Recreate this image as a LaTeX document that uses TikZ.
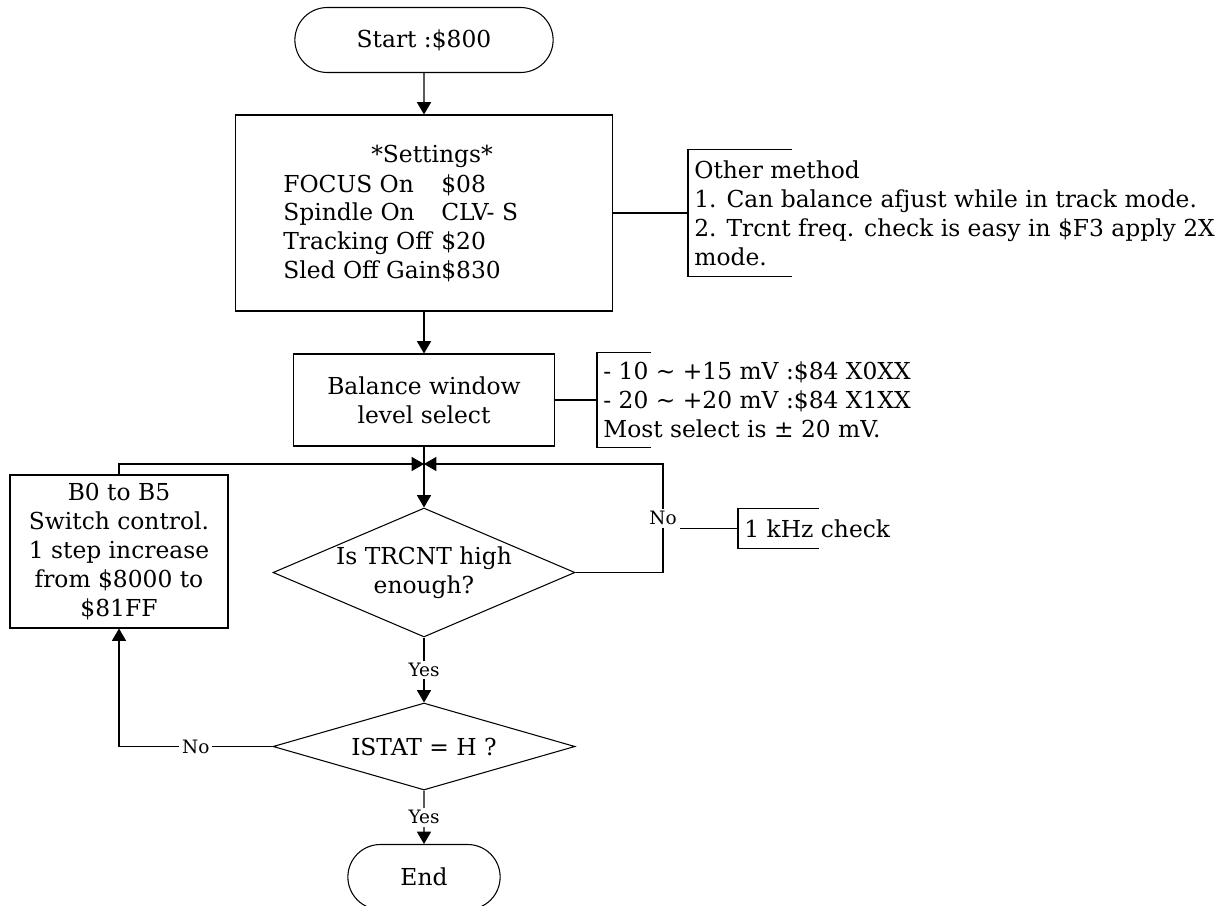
\documentclass[tikz,border=0pt]{standalone}
\usepackage{fontspec}
\setmainfont{DejaVu Serif}
\usetikzlibrary{shapes.geometric, shapes.misc, arrows.meta}

\begin{document}
\begin{tikzpicture}
  [x=0.02cm, y=-0.02cm,
  font=\fontsize{13.3}{16.5}\selectfont,
  terminal/.style={rounded rectangle, draw=black, line width=0.6pt,
  minimum width=#1, minimum height=1.3cm},
  block/.style={rectangle, draw=black, line width=0.6pt, align=center},
  decision/.style={diamond, draw=black, line width=0.6pt,
  align=center, inner sep=0pt, minimum width=6.04cm},
  note/.style={anchor=west, align=left, inner xsep=0.12cm, inner ysep=0pt},
  lbl/.style={font=\fontsize{10.5}{12}\selectfont, fill=white, inner sep=1.5pt},
  line/.style={draw, line width=0.6pt, -{Triangle[length=7pt,width=8pt]}},
  link/.style={draw, line width=0.6pt}]

  \useasboundingbox (0,0) rectangle (1224,906);

  \node [terminal=5.4cm] (start) at (424,40) {Start :\$800};
  \node [block, minimum width=7.56cm, minimum height=3.92cm] (settings) at (424,213) {};
  \node (settitle) at (432,156) {*Settings*};
  \node [anchor=base west, inner sep=0pt] (setlist) at (283,192)
    {\begin{tabular}[t]{@{}l@{}l@{}}
      FOCUS On & \$08\\
      Spindle On & CLV- S\\
      Tracking Off & \$20\\
      Sled Off Gain & \$830
    \end{tabular}};
  \node [note, minimum height=2.52cm] (other) at (688,213)
    {Other method\\
     1. Can balance afjust while in track mode.\\
     2. Trcnt freq. check is easy in \$F3 apply 2X\\
     mode.};
  \node [block, minimum width=5.22cm, minimum height=1.84cm] (balance) at (424,400)
    {Balance window\\level select};
  \node [note, minimum height=1.88cm] (levels) at (597,400)
    {- 10 \textasciitilde{} +15 mV :\$84 X0XX\\
     - 20 \textasciitilde{} +20 mV :\$84 X1XX\\
     Most select is ± 20 mV.};
  \coordinate (join) at (424,464);
  \coordinate (turn) at (663,464);
  \node [block, minimum width=4.36cm, minimum height=3.06cm] (steps) at (119,551.5)
    {B0 to B5\\Switch control.\\1 step increase\\from \$8000 to\\\$81FF};
  \node [decision, minimum height=2.58cm, aspect=2.34] (trcnt) at (424,572.5)
    {Is TRCNT high\\enough?};
  \node [note, minimum height=0.78cm] (check) at (738,528.5) {1 kHz check};
  \node [decision, minimum height=1.74cm, aspect=3.47] (istat) at (424,746.5) {ISTAT = H ?};
  \node [terminal=3.28cm] (end) at (424,877) {End};

  \draw [line] (start) -- (settings);
  \draw [line] (settings) -- (balance);
  \draw [link] (balance) -- (join);
  \draw [line] (join) -- (trcnt);
  \draw [line] (steps.north) |- (join);
  \draw [line] (trcnt.east) -| node [lbl, pos=0.75] (no1) {No} (turn) -- (join);
  \draw [link] (no1.east |- check.west) -- (check.west);
  \draw [line] (trcnt) -- node [lbl] {Yes} (istat);
  \draw [line] (istat.west) -| node [lbl, pos=0.25] {No} (steps.south);
  \draw [line] (istat) -- node [lbl] {Yes} (end);
  \draw [link] (settings) -- (other.west);
  \draw [link] (balance) -- (levels.west);

  \draw [link] (other.north west) ++(104,0) -- (other.north west)
    -- (other.south west) -- ++(104,0);
  \draw [link] (levels.north west) ++(54,0) -- (levels.north west)
    -- (levels.south west) -- ++(54,0);
  \draw [link] (check.north west) ++(81,0) -- (check.north west)
    -- (check.south west) -- ++(81,0);
\end{tikzpicture}
\end{document}
